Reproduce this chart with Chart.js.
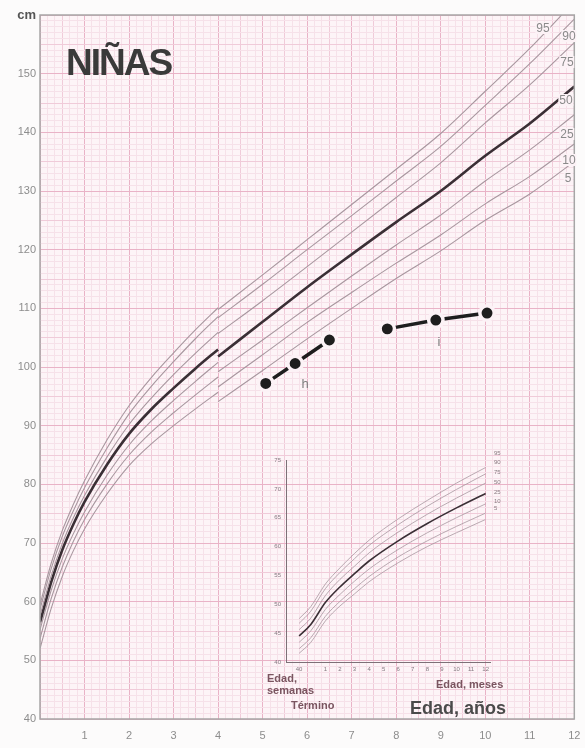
<!DOCTYPE html>
<html>
<head>
<meta charset="utf-8">
<script src="https://cdn.jsdelivr.net/npm/chart.js@4.4.0/dist/chart.umd.min.js"></script>
<style>
  html, body { margin: 0; padding: 0; background: #fcfbfb; }
  #wrap { position: relative; width: 585px; height: 748px; overflow: hidden;
          font-family: "Liberation Sans", Arial, sans-serif; }
  #main { position: absolute; left: 0; top: 0; }
  #inset { position: absolute; left: 256px; top: 448px; }
  .t { position: absolute; white-space: nowrap; line-height: 1; }
  .title { left: 66px; top: 44px; font-size: 37px; font-weight: bold; color: #3a3a3a; letter-spacing: -2px; }
  .axis-name { left: 410px; top: 699px; font-size: 18px; font-weight: bold; color: #4a4a4a; }
  .pl { font-size: 12px; color: #8a8a8a; background: #fcf2f6; padding: 0 1px; transform: translate(-50%, -50%); }
  .dot-lbl { font-size: 13px; color: #7d7d7d; transform: translate(-50%, -50%); }
  .in-lbl { font-size: 11px; font-weight: bold; color: #7a5560; }
  .in-pl { font-size: 6px; color: #8a7a80; left: 494px; }
</style>
</head>
<body>
<div id="wrap">
  <canvas id="main" width="585" height="748"></canvas>
  <canvas id="inset" width="260" height="232"></canvas>

  <div class="t title">NIÑAS</div>
  <div class="t axis-name">Edad, años</div>

  <div class="t pl" style="left:543px;top:28px">95</div>
  <div class="t pl" style="left:569px;top:36px">90</div>
  <div class="t pl" style="left:567px;top:62px">75</div>
  <div class="t pl" style="left:566px;top:100px">50</div>
  <div class="t pl" style="left:567px;top:134px">25</div>
  <div class="t pl" style="left:569px;top:160px">10</div>
  <div class="t pl" style="left:568px;top:178px">5</div>

  <div class="t dot-lbl" style="left:305px;top:383px">h</div>
  <div class="t dot-lbl" style="left:439px;top:341px">i</div>

  <div class="t in-lbl" style="left:267px;top:673px">Edad,</div>
  <div class="t in-lbl" style="left:267px;top:685px">semanas</div>
  <div class="t in-lbl" style="left:291px;top:700px">Término</div>
  <div class="t in-lbl" style="left:436px;top:679px">Edad, meses</div>

  <div class="t in-pl" style="top:450px">95</div>
  <div class="t in-pl" style="top:459px">90</div>
  <div class="t in-pl" style="top:469px">75</div>
  <div class="t in-pl" style="top:479px">50</div>
  <div class="t in-pl" style="top:489px">25</div>
  <div class="t in-pl" style="top:498px">10</div>
  <div class="t in-pl" style="top:505px">5</div>
</div>

<script>
"use strict"

// talla por edad, 0-4 años (longitud)
const ages_a = [0, 0.25, 0.5, 0.75, 1, 1.5, 2, 2.5, 3, 3.5, 4]
const p95_a = [59.5, 66.5, 72.1, 76.6, 80.6, 87.5, 93.4, 98.2, 102.4, 106.4, 110.1]
const p90_a = [58.7, 65.6, 71.1, 75.5, 79.4, 86.1, 92.0, 96.7, 100.9, 104.9, 108.6]
const p75_a = [57.6, 64.4, 69.9, 74.3, 78.1, 84.6, 90.2, 94.7, 98.7, 102.4, 105.9]
const p50_a = [56.5, 63.3, 68.8, 73.2, 77.0, 83.3, 88.6, 92.8, 96.4, 99.8, 103.0]
const p25_a = [55.2, 61.9, 67.3, 71.6, 75.3, 81.5, 86.7, 90.8, 94.3, 97.6, 100.8]
const p10_a = [53.7, 60.5, 65.9, 70.3, 74.0, 80.0, 85.0, 88.9, 92.2, 95.3, 98.3]
const p5_a  = [52.0, 58.8, 64.3, 68.7, 72.4, 78.3, 83.2, 86.9, 90.0, 92.9, 95.7]

// 4-12 años (estatura)
const ages_b = [4, 5, 6, 7, 8, 9, 10, 11, 12]
const p95_b = [109.8, 115.7, 121.7, 127.7, 133.7, 139.8, 147.0, 154.3, 162.3]
const p90_b = [108.4, 114.1, 120.0, 125.8, 131.7, 137.6, 144.6, 151.7, 159.3]
const p75_b = [105.7, 111.3, 117.1, 123.0, 128.9, 134.8, 141.6, 148.1, 155.3]
const p50_b = [101.8, 107.7, 113.6, 119.2, 124.7, 130.0, 136.0, 141.5, 147.8]
const p25_b = [99.2, 104.6, 110.1, 115.5, 120.8, 125.9, 131.7, 137.0, 143.0]
const p10_b = [96.6, 102.1, 107.6, 112.7, 117.7, 122.5, 127.8, 132.5, 138.0]
const p5_b  = [94.1, 99.4, 104.8, 110.0, 115.1, 119.8, 125.0, 129.5, 135.0]

// pacientes h, i
const h_age = [5.07, 5.73, 6.5]
const h_cm = [97.2, 100.6, 104.6]
const i_age = [7.8, 8.89, 10.04]
const i_cm = [106.5, 108.0, 109.2]

// recuadro: meses
const in_months = [-0.8, 0, 1, 2, 3, 4, 6, 8, 10, 12]
const in95 = [47.5, 49.6, 53.5, 56.3, 58.8, 61.1, 64.8, 68.0, 71.0, 73.7]
const in90 = [46.7, 48.8, 52.7, 55.5, 57.9, 60.2, 63.8, 67.0, 69.9, 72.6]
const in75 = [45.6, 47.6, 51.5, 54.3, 56.6, 58.9, 62.5, 65.6, 68.4, 71.0]
const in50 = [44.5, 46.5, 50.3, 53.0, 55.3, 57.5, 61.0, 64.0, 66.7, 69.2]
const in25 = [43.4, 45.4, 49.1, 51.7, 54.0, 56.1, 59.5, 62.4, 65.0, 67.4]
const in10 = [42.3, 44.2, 47.9, 50.5, 52.7, 54.8, 58.2, 61.0, 63.5, 65.8]
const in5  = [41.5, 43.4, 47.1, 49.7, 51.8, 53.9, 57.2, 60.0, 62.4, 64.7]
const in_tick_vals = [-0.8, 1, 2, 3, 4, 5, 6, 7, 8, 9, 10, 11, 12]
const in_tick_labels = ["40", "1", "2", "3", "4", "5", "6", "7", "8", "9", "10", "11", "12"]
const in_y_ticks = [40, 45, 50, 55, 60, 65, 70, 75]

const GRID_MAJOR = '#e9b3c7'
const GRID_MID = '#f0cbd9'
const GRID_MINOR = '#f6e1e9'

function tickVal(c){
  return (c && c.tick) ? c.tick.value : NaN
}

function curve(ages, vals, dark, thin){
  return {
    data: ages.map((a, i) => ({x: a, y: vals[i]})),
    borderColor: dark ? '#3a2f35' : '#a8979f',
    borderWidth: dark ? (thin ? 1.6 : 2.6) : (thin ? 0.8 : 1.1),
    pointRadius: 0,
    cubicInterpolationMode: 'monotone',
    fill: false
  }
}

function patient(ages, vals){
  return {
    data: ages.map((a, i) => ({x: a, y: vals[i]})),
    showLine: true,
    borderColor: '#1e1e1e',
    borderWidth: 3.5,
    pointRadius: 7.2,
    pointBorderWidth: 3.5,
    pointBackgroundColor: '#1e1e1e',
    pointBorderColor: '#fcf2f6',
    tension: 0
  }
}

const seg_a = [p95_a, p90_a, p75_a, p50_a, p25_a, p10_a, p5_a]
const seg_b = [p95_b, p90_b, p75_b, p50_b, p25_b, p10_b, p5_b]
let datasets = []
for(let k = 0; k < seg_a.length; k++){
  datasets.push(curve(ages_a, seg_a[k], k === 3))
  datasets.push(curve(ages_b, seg_b[k], k === 3))
}
datasets.push(patient(h_age, h_cm))
datasets.push(patient(i_age, i_cm))

const plotBg = {
  id: 'plotBg',
  beforeDraw(chart){
    const {ctx, chartArea: a} = chart
    ctx.save()
    ctx.fillStyle = '#fdf4f7'
    ctx.fillRect(a.left, a.top, a.width, a.height)
    ctx.restore()
  }
}

const frame = {
  id: 'frame',
  afterDraw(chart){
    const {ctx, chartArea: a} = chart
    ctx.save()
    ctx.strokeStyle = '#a6a6a6'
    ctx.lineWidth = 1.5
    ctx.strokeRect(a.left, a.top, a.width, a.height)
    ctx.restore()
  }
}

new Chart(document.getElementById('main'), {
  type: 'line',
  data: { datasets: datasets },
  options: {
    responsive: false,
    animation: false,
    layout: { padding: { top: 15, right: 5, left: 0, bottom: 0 } },
    plugins: { legend: { display: false }, tooltip: { enabled: false } },
    scales: {
      x: {
        type: 'linear', min: 0, max: 12,
        afterBuildTicks: (s) => {
          s.ticks = []
          for(let n = 0; n <= 72; n++) s.ticks.push({value: n / 6})
        },
        afterFit: (s) => { s.height = 29; s.paddingLeft = 0; s.paddingRight = 0 },
        grid: {
          drawTicks: false,
          color: (c) => {
            const r = Math.round(tickVal(c) * 6)
            if(r % 6 === 0) return GRID_MAJOR
            if(r % 3 === 0) return GRID_MID
            return GRID_MINOR
          }
        },
        border: { display: false },
        ticks: {
          autoSkip: false, maxRotation: 0, padding: 10,
          color: '#8d8d8d', font: { size: 11, family: 'Liberation Sans' },
          callback: (v) => {
            const r = Math.round(v)
            return (Math.abs(v - r) < 1e-6 && r > 0) ? String(r) : ''
          }
        }
      },
      y: {
        type: 'linear', min: 40, max: 160,
        afterBuildTicks: (s) => {
          s.ticks = []
          for(let v = 40; v <= 160; v++) s.ticks.push({value: v})
        },
        afterFit: (s) => { s.width = 40; s.paddingTop = 0; s.paddingBottom = 0 },
        grid: {
          drawTicks: false,
          color: (c) => {
            const v = tickVal(c)
            if(v % 10 === 0) return GRID_MAJOR
            if(v % 5 === 0) return GRID_MID
            return GRID_MINOR
          }
        },
        border: { display: false },
        ticks: {
          autoSkip: false, padding: 4,
          color: (c) => tickVal(c) === 160 ? '#555555' : '#8d8d8d',
          font: (c) => {
            const top = tickVal(c) === 160
            return { size: top ? 13 : 11, weight: top ? 'bold' : 'normal', family: 'Liberation Sans' }
          },
          callback: (v) => v === 160 ? 'cm' : (v % 10 === 0 ? String(v) : '')
        }
      }
    }
  },
  plugins: [plotBg, frame]
})

// recuadro de lactantes
const inset_sets = [in95, in90, in75, in50, in25, in10, in5].map((vals, k) => curve(in_months, vals, k === 3, true))

new Chart(document.getElementById('inset'), {
  type: 'line',
  data: { datasets: inset_sets },
  options: {
    responsive: false,
    animation: false,
    layout: { padding: { top: 12, right: 26, left: 0, bottom: 0 } },
    plugins: { legend: { display: false }, tooltip: { enabled: false } },
    scales: {
      x: {
        type: 'linear', min: -1.7, max: 12.3,
        afterBuildTicks: (s) => { s.ticks = in_tick_vals.map(v => ({value: v})) },
        afterFit: (s) => { s.height = 18; s.paddingLeft = 0; s.paddingRight = 0 },
        grid: { display: false, drawTicks: false },
        border: { color: '#7d7077', width: 1 },
        ticks: {
          autoSkip: false, maxRotation: 0, padding: 4,
          color: '#857880', font: { size: 6, family: 'Liberation Sans' },
          callback: (v) => {
            const idx = in_tick_vals.indexOf(v)
            return idx >= 0 ? in_tick_labels[idx] : ''
          }
        }
      },
      y: {
        type: 'linear', min: 40, max: 75,
        afterBuildTicks: (s) => { s.ticks = in_y_ticks.map(v => ({value: v})) },
        afterFit: (s) => { s.width = 30; s.paddingTop = 0; s.paddingBottom = 0 },
        grid: { display: false, drawTicks: false },
        border: { color: '#7d7077', width: 1 },
        ticks: {
          autoSkip: false, padding: 5,
          color: '#857880', font: { size: 6, family: 'Liberation Sans' }
        }
      }
    }
  }
})
</script>
</body>
</html>
